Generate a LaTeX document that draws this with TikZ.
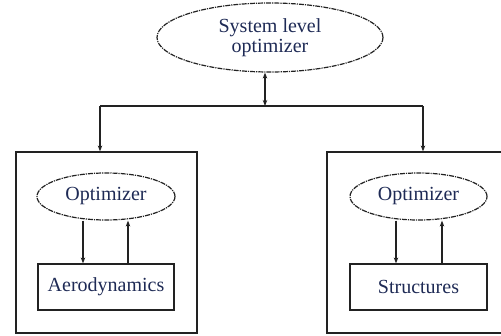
\documentclass[tikz,border=0pt]{standalone}
\usepackage{fontspec}
\setmainfont{Liberation Serif}
\usetikzlibrary{shapes.geometric,arrows.meta}
\definecolor{ink}{HTML}{1E2A55}
\definecolor{linecol}{HTML}{222222}
\tikzset{
  every node/.style={font=\fontsize{20}{20}\selectfont, text=ink},
  conn/.style={draw=linecol, line width=1.2pt},
  tip/.style={-{Stealth[length=6pt,width=4.5pt]}},
  opt/.style={ellipse, draw=linecol, line width=1.2pt, inner sep=0pt,
    dash pattern=on 5pt off 1pt on 1.2pt off 1pt},
  discipline/.style={rectangle, draw=linecol, line width=1.2pt, inner sep=0pt,
    minimum width=136pt, minimum height=46pt},
  subsystem/.style={rectangle, draw=linecol, line width=1.2pt, inner sep=0pt,
    minimum width=181pt, minimum height=181pt}
}
\begin{document}
\begin{tikzpicture}[x=1pt, y=-1pt]
  \clip (0,0) rectangle (501,336);
  \useasboundingbox (0,0) rectangle (501,336);

  % system level
  \node[opt, minimum width=226pt, minimum height=69pt, align=center]
    (sys) at (270,37.5) {System level\\optimizer};

  % coupling bus
  \coordinate (bus) at (265,106);
  \coordinate (busL) at (100,106);
  \coordinate (busR) at (423,106);

  % subsystems
  \node[subsystem] (boxL) at (106.5,242.5) {};
  \node[subsystem] (boxR) at (417.5,242.5) {};

  \node[opt, minimum width=138pt, minimum height=47pt] (optL) at (106,196.5) {Optimizer};
  \node[discipline] (aero) at (106,287) {Aerodynamics};

  \node[opt, minimum width=137pt, minimum height=47pt] (optR) at (418.5,196.5) {Optimizer};
  \node[discipline, minimum width=137pt] (struct) at (418.5,287) {Structures};

  % connectors
  \draw[conn, {Stealth[length=6pt,width=4.5pt]}-{Stealth[length=6pt,width=4.5pt]}]
    (bus |- sys.south) -- (bus);
  \draw[conn] (busL) -- (busR);
  \draw[conn, tip] (busL) -- (busL |- boxL.north);
  \draw[conn, tip] (busR) -- (busR |- boxR.north);

  \draw[conn, tip] (83,0 |- optL.south) -- (83,0 |- aero.north);
  \draw[conn, tip] (128,0 |- aero.north) -- (128,0 |- optL.south);
  \draw[conn, tip] (396,0 |- optR.south) -- (396,0 |- struct.north);
  \draw[conn, tip] (442,0 |- struct.north) -- (442,0 |- optR.south);
\end{tikzpicture}
\end{document}
